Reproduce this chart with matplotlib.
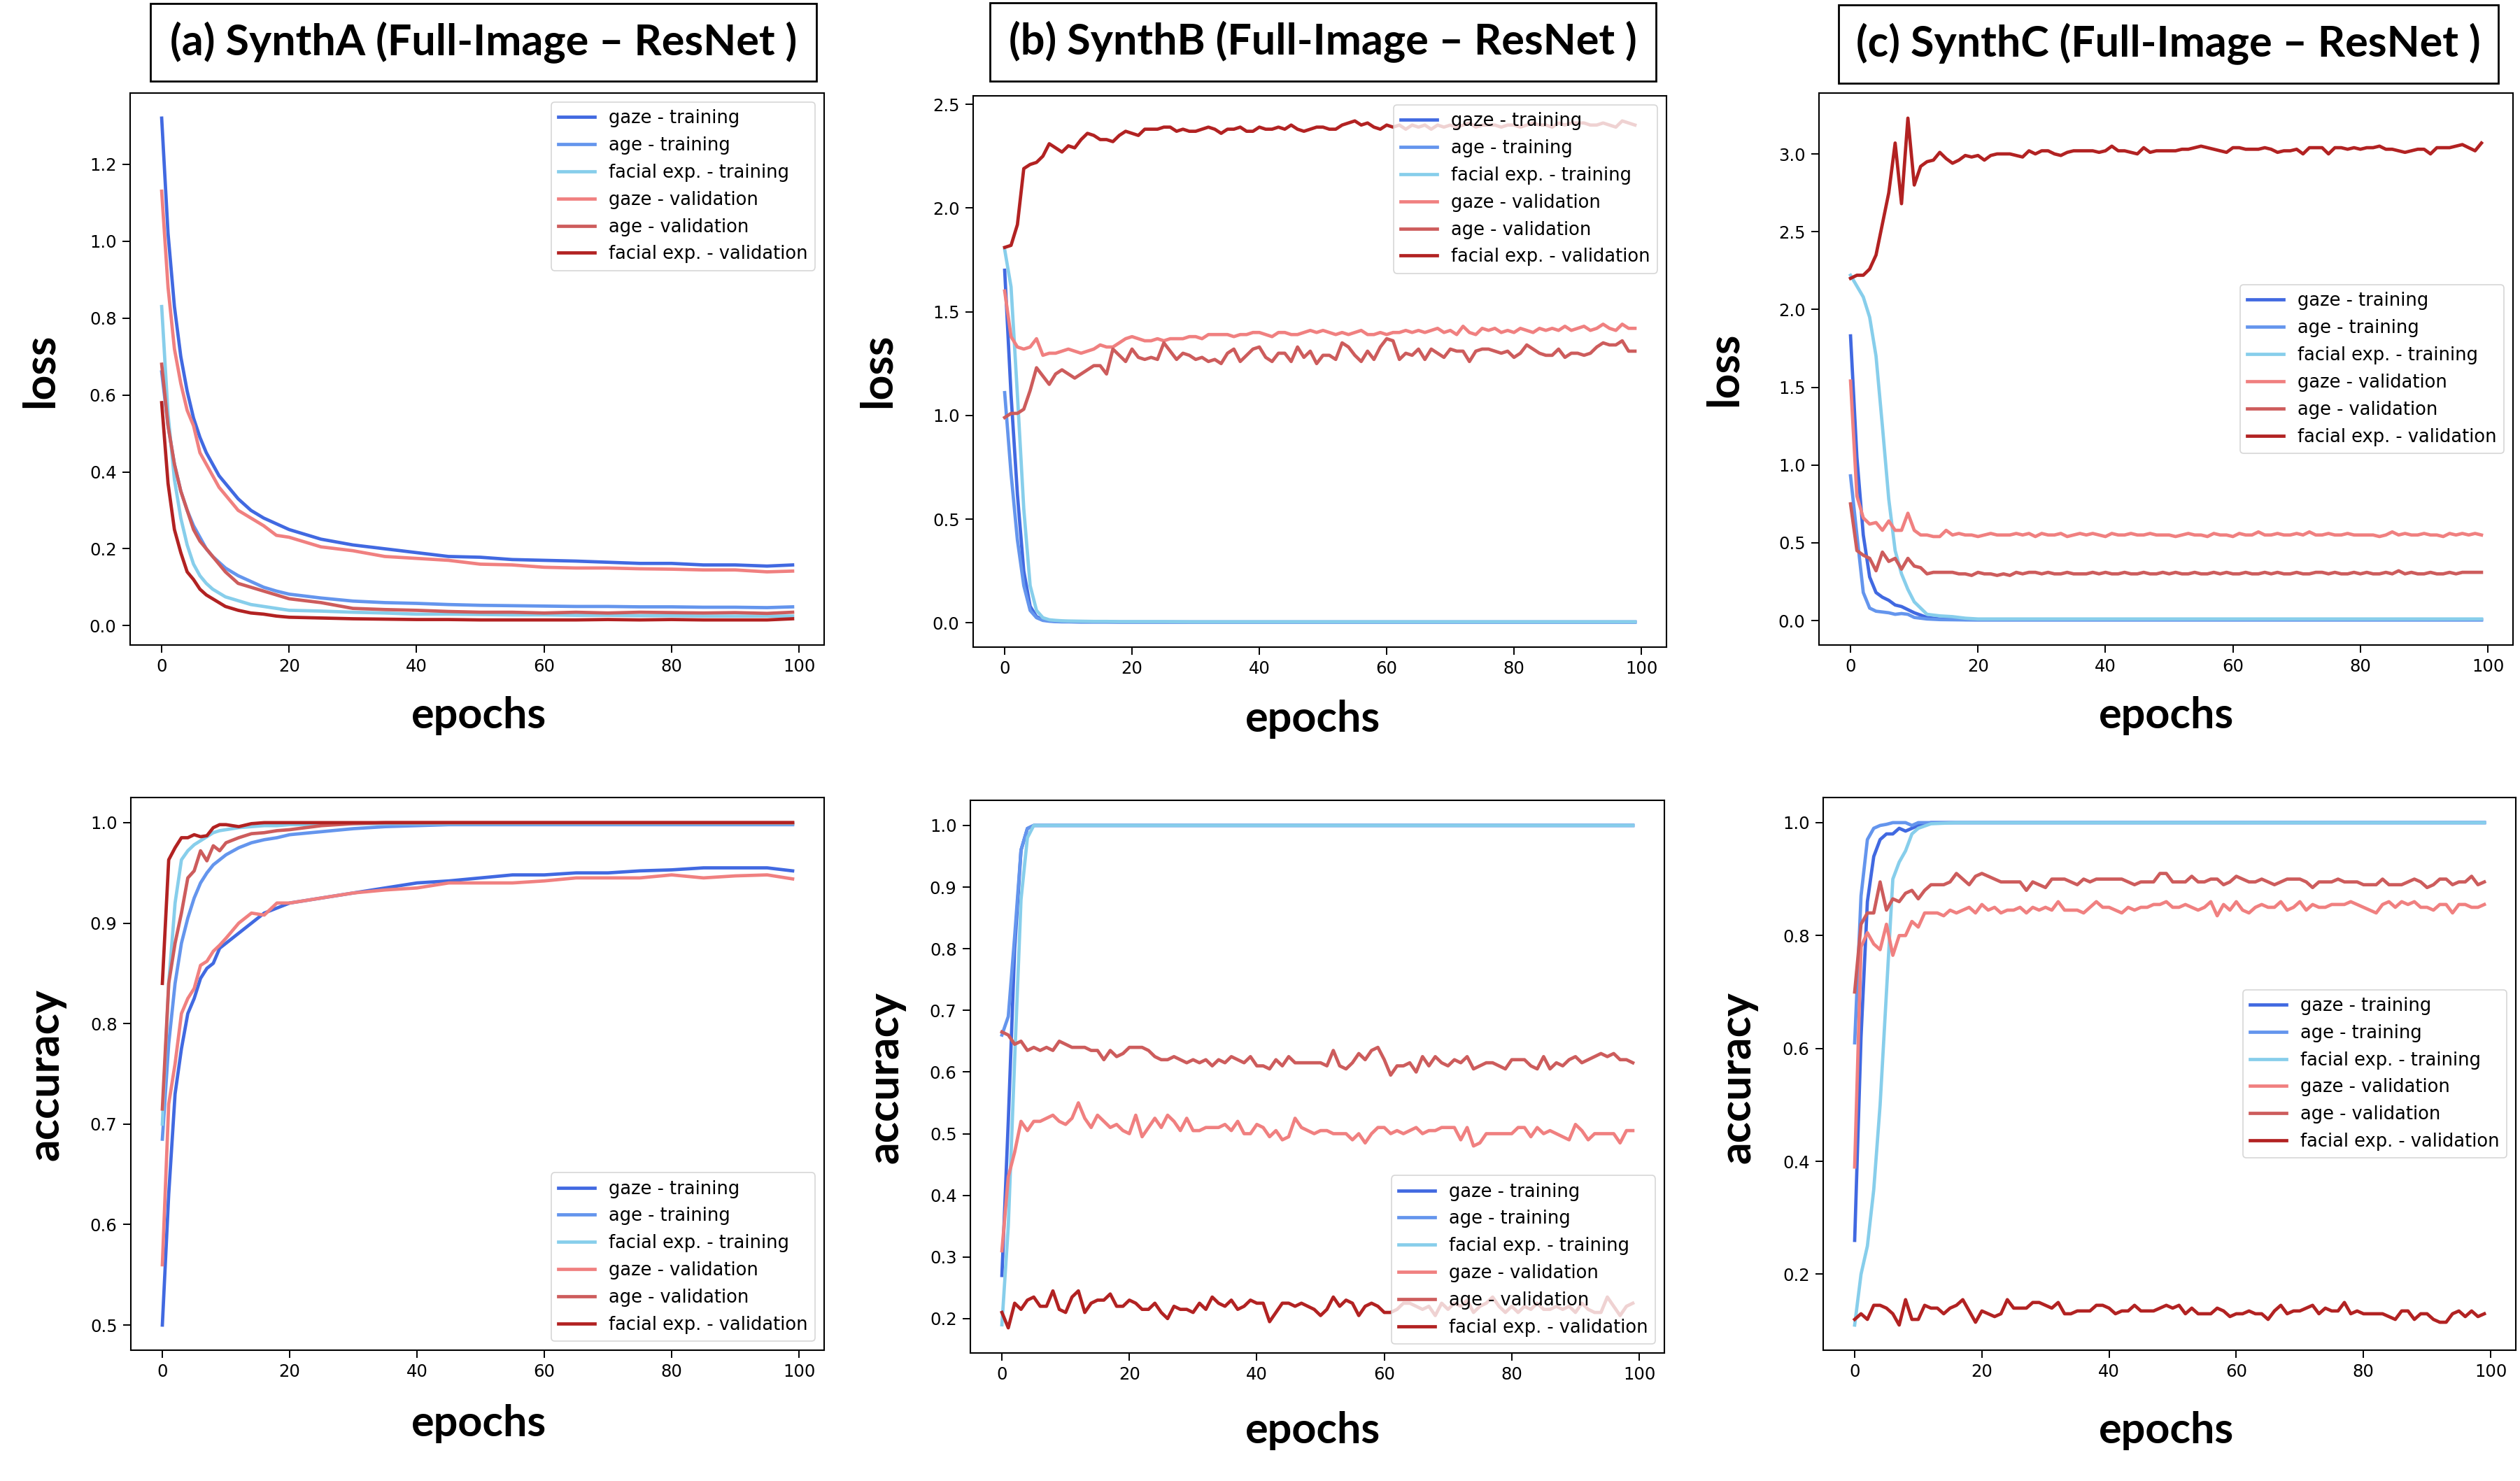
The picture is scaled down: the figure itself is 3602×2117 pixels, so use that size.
import matplotlib
matplotlib.use("Agg")
import matplotlib.pyplot as plt
from matplotlib.patches import Rectangle

W, H = 3602, 2117

ep_smooth = [0, 1, 2, 3, 4, 5, 6, 7, 8, 9, 10, 12, 14, 16, 18, 20, 25, 30, 35, 40,
             45, 50, 55, 60, 65, 70, 75, 80, 85, 90, 95, 99]
ep_all = list(range(100))

labels = ["gaze - training", "age - training", "facial exp. - training",
          "gaze - validation", "age - validation", "facial exp. - validation"]
colors = ["royalblue", "cornflowerblue", "skyblue", "lightcoral", "indianred", "firebrick"]

titles = ["(a) SynthA (Full-Image \u2013 ResNet )",
          "(b) SynthB (Full-Image \u2013 ResNet )",
          "(c) SynthC (Full-Image \u2013 ResNet )"]

# ---- (a) SynthA loss (ep_smooth)
a_loss_gaze_tr = [1.32, 1.02, 0.83, 0.70, 0.61, 0.54, 0.49, 0.45, 0.42, 0.39, 0.37, 0.33, 0.30, 0.28, 0.265, 0.25,
                  0.225, 0.21, 0.20, 0.19, 0.18, 0.178, 0.172, 0.17, 0.168, 0.165, 0.162, 0.162, 0.158, 0.158, 0.155, 0.158]
a_loss_age_tr = [0.66, 0.52, 0.42, 0.35, 0.30, 0.26, 0.23, 0.20, 0.18, 0.165, 0.15, 0.13, 0.115, 0.10, 0.09, 0.082,
                 0.072, 0.064, 0.06, 0.058, 0.055, 0.053, 0.052, 0.051, 0.05, 0.05, 0.049, 0.049, 0.048, 0.048, 0.047, 0.049]
a_loss_face_tr = [0.83, 0.55, 0.38, 0.28, 0.21, 0.16, 0.13, 0.11, 0.095, 0.085, 0.075, 0.065, 0.055, 0.05, 0.045, 0.04,
                  0.038, 0.035, 0.033, 0.03, 0.03, 0.029, 0.028, 0.028, 0.027, 0.027, 0.026, 0.026, 0.025, 0.025, 0.025, 0.025]
a_loss_gaze_val = [1.13, 0.88, 0.72, 0.63, 0.56, 0.52, 0.45, 0.42, 0.39, 0.36, 0.34, 0.30, 0.28, 0.26, 0.235, 0.23,
                   0.205, 0.195, 0.18, 0.175, 0.17, 0.16, 0.158, 0.152, 0.15, 0.15, 0.148, 0.147, 0.145, 0.145, 0.14, 0.142]
a_loss_age_val = [0.68, 0.52, 0.42, 0.35, 0.30, 0.25, 0.22, 0.20, 0.18, 0.16, 0.14, 0.11, 0.10, 0.09, 0.08, 0.07,
                  0.06, 0.045, 0.042, 0.04, 0.037, 0.035, 0.035, 0.033, 0.035, 0.033, 0.035, 0.034, 0.033, 0.034, 0.032, 0.035]
a_loss_face_val = [0.58, 0.37, 0.25, 0.19, 0.14, 0.12, 0.095, 0.08, 0.07, 0.06, 0.05, 0.04, 0.033, 0.03, 0.025, 0.022,
                   0.02, 0.018, 0.017, 0.016, 0.016, 0.015, 0.015, 0.015, 0.015, 0.016, 0.015, 0.016, 0.015, 0.015, 0.015, 0.018]

# ---- (a) SynthA accuracy (ep_smooth)
a_acc_gaze_tr = [0.50, 0.63, 0.73, 0.775, 0.81, 0.825, 0.845, 0.855, 0.86, 0.875, 0.88, 0.89, 0.90, 0.91, 0.915, 0.92,
                 0.925, 0.93, 0.935, 0.94, 0.942, 0.945, 0.948, 0.948, 0.95, 0.95, 0.952, 0.953, 0.955, 0.955, 0.955, 0.952]
a_acc_age_tr = [0.685, 0.78, 0.84, 0.88, 0.905, 0.925, 0.94, 0.95, 0.958, 0.963, 0.968, 0.975, 0.98, 0.983, 0.985, 0.988,
                0.991, 0.994, 0.996, 0.997, 0.998, 0.998, 0.998, 0.998, 0.998, 0.998, 0.998, 0.998, 0.998, 0.998, 0.998, 0.998]
a_acc_face_tr = [0.70, 0.84, 0.92, 0.963, 0.972, 0.978, 0.982, 0.986, 0.99, 0.992, 0.993, 0.995, 0.996, 0.997, 0.997, 0.998,
                 0.998, 0.999, 0.999, 0.999, 0.999, 0.999, 0.999, 0.999, 0.999, 0.999, 0.999, 0.999, 0.999, 0.999, 0.999, 0.999]
a_acc_gaze_val = [0.56, 0.72, 0.76, 0.81, 0.825, 0.835, 0.858, 0.862, 0.872, 0.878, 0.885, 0.90, 0.91, 0.908, 0.92, 0.92,
                  0.925, 0.93, 0.933, 0.935, 0.94, 0.94, 0.94, 0.942, 0.945, 0.945, 0.945, 0.948, 0.945, 0.947, 0.948, 0.944]
a_acc_age_val = [0.715, 0.84, 0.88, 0.91, 0.945, 0.952, 0.972, 0.962, 0.977, 0.972, 0.98, 0.985, 0.989, 0.99, 0.992, 0.993,
                 0.997, 0.999, 1.0, 1.0, 1.0, 1.0, 1.0, 1.0, 1.0, 1.0, 1.0, 1.0, 1.0, 1.0, 1.0, 1.0]
a_acc_face_val = [0.84, 0.963, 0.975, 0.985, 0.985, 0.988, 0.986, 0.987, 0.995, 0.998, 0.998, 0.996, 0.999, 1.0, 1.0, 1.0,
                  1.0, 1.0, 1.0, 1.0, 1.0, 1.0, 1.0, 1.0, 1.0, 1.0, 1.0, 1.0, 1.0, 1.0, 1.0, 1.0]

# ---- (b) SynthB loss
b_loss_gaze_tr = [1.70, 1.10, 0.62, 0.25, 0.08, 0.03, 0.015, 0.01, 0.008, 0.007, 0.006, 0.005, 0.005, 0.005, 0.004, 0.004,
                  0.004, 0.004, 0.004, 0.004, 0.004, 0.004, 0.004, 0.004, 0.004, 0.004, 0.004, 0.004, 0.004, 0.004, 0.004, 0.004]
b_loss_age_tr = [1.11, 0.72, 0.40, 0.18, 0.06, 0.025, 0.012, 0.008, 0.006, 0.005, 0.005, 0.004, 0.004, 0.004, 0.004, 0.004,
                 0.004, 0.004, 0.004, 0.004, 0.004, 0.004, 0.004, 0.004, 0.004, 0.004, 0.004, 0.004, 0.004, 0.004, 0.004, 0.004]
b_loss_face_tr = [1.80, 1.62, 1.10, 0.55, 0.18, 0.06, 0.025, 0.015, 0.012, 0.01, 0.009, 0.008, 0.007, 0.007, 0.006, 0.006,
                  0.006, 0.005, 0.005, 0.005, 0.005, 0.005, 0.005, 0.005, 0.005, 0.005, 0.005, 0.005, 0.005, 0.005, 0.005, 0.005]
b_loss_gaze_val = [1.60, 1.38, 1.33, 1.32, 1.33, 1.37, 1.29, 1.30, 1.30, 1.31,
                   1.32, 1.31, 1.30, 1.31, 1.32, 1.34, 1.33, 1.33, 1.35, 1.37,
                   1.38, 1.37, 1.36, 1.36, 1.37, 1.36, 1.37, 1.37, 1.37, 1.38,
                   1.38, 1.37, 1.39, 1.39, 1.39, 1.39, 1.38, 1.39, 1.39, 1.40,
                   1.40, 1.39, 1.38, 1.40, 1.40, 1.39, 1.39, 1.40, 1.41, 1.40,
                   1.41, 1.40, 1.39, 1.40, 1.39, 1.40, 1.41, 1.39, 1.39, 1.40,
                   1.39, 1.40, 1.40, 1.41, 1.40, 1.41, 1.40, 1.41, 1.42, 1.40,
                   1.41, 1.39, 1.43, 1.40, 1.39, 1.42, 1.41, 1.42, 1.40, 1.41,
                   1.40, 1.42, 1.41, 1.40, 1.42, 1.41, 1.42, 1.41, 1.43, 1.41,
                   1.42, 1.43, 1.41, 1.42, 1.44, 1.42, 1.41, 1.44, 1.42, 1.42]
b_loss_age_val = [0.99, 1.01, 1.01, 1.03, 1.12, 1.23, 1.19, 1.15, 1.20, 1.22,
                  1.20, 1.18, 1.20, 1.22, 1.24, 1.24, 1.20, 1.32, 1.29, 1.26,
                  1.32, 1.28, 1.27, 1.28, 1.27, 1.35, 1.31, 1.27, 1.30, 1.29,
                  1.27, 1.28, 1.26, 1.27, 1.25, 1.30, 1.32, 1.26, 1.29, 1.32,
                  1.33, 1.28, 1.26, 1.30, 1.30, 1.26, 1.33, 1.28, 1.31, 1.25,
                  1.29, 1.29, 1.27, 1.35, 1.33, 1.29, 1.26, 1.31, 1.27, 1.33,
                  1.37, 1.36, 1.27, 1.30, 1.29, 1.32, 1.27, 1.32, 1.30, 1.28,
                  1.32, 1.31, 1.31, 1.26, 1.31, 1.32, 1.32, 1.31, 1.30, 1.31,
                  1.28, 1.30, 1.34, 1.32, 1.30, 1.29, 1.29, 1.32, 1.28, 1.30,
                  1.30, 1.29, 1.30, 1.33, 1.35, 1.34, 1.34, 1.36, 1.31, 1.31]
b_loss_face_val = [1.81, 1.82, 1.92, 2.19, 2.21, 2.22, 2.25, 2.31, 2.29, 2.27,
                   2.30, 2.29, 2.33, 2.36, 2.35, 2.33, 2.33, 2.32, 2.35, 2.37,
                   2.36, 2.35, 2.38, 2.38, 2.38, 2.39, 2.39, 2.37, 2.38, 2.37,
                   2.37, 2.38, 2.39, 2.38, 2.36, 2.38, 2.38, 2.39, 2.37, 2.37,
                   2.39, 2.38, 2.38, 2.39, 2.38, 2.40, 2.38, 2.37, 2.38, 2.39,
                   2.39, 2.38, 2.38, 2.40, 2.41, 2.42, 2.40, 2.41, 2.39, 2.38,
                   2.40, 2.39, 2.40, 2.38, 2.40, 2.39, 2.40, 2.38, 2.40, 2.39,
                   2.40, 2.39, 2.40, 2.41, 2.39, 2.40, 2.40, 2.40, 2.39, 2.40,
                   2.40, 2.39, 2.40, 2.41, 2.40, 2.40, 2.39, 2.41, 2.40, 2.41,
                   2.41, 2.41, 2.40, 2.40, 2.41, 2.40, 2.39, 2.42, 2.41, 2.40]

# ---- (b) SynthB accuracy
b_acc_gaze_tr = [0.27, 0.52, 0.80, 0.96, 0.995, 1.0, 1.0, 1.0, 1.0, 1.0, 1.0, 1.0, 1.0, 1.0, 1.0, 1.0,
                 1.0, 1.0, 1.0, 1.0, 1.0, 1.0, 1.0, 1.0, 1.0, 1.0, 1.0, 1.0, 1.0, 1.0, 1.0, 1.0]
b_acc_age_tr = [0.66, 0.69, 0.82, 0.96, 0.995, 1.0, 1.0, 1.0, 1.0, 1.0, 1.0, 1.0, 1.0, 1.0, 1.0, 1.0,
                1.0, 1.0, 1.0, 1.0, 1.0, 1.0, 1.0, 1.0, 1.0, 1.0, 1.0, 1.0, 1.0, 1.0, 1.0, 1.0]
b_acc_face_tr = [0.19, 0.35, 0.62, 0.88, 0.98, 1.0, 1.0, 1.0, 1.0, 1.0, 1.0, 1.0, 1.0, 1.0, 1.0, 1.0,
                 1.0, 1.0, 1.0, 1.0, 1.0, 1.0, 1.0, 1.0, 1.0, 1.0, 1.0, 1.0, 1.0, 1.0, 1.0, 1.0]
b_acc_gaze_val = [0.31, 0.43, 0.47, 0.52, 0.505, 0.52, 0.52, 0.525, 0.53, 0.52,
                  0.515, 0.525, 0.55, 0.525, 0.51, 0.53, 0.52, 0.51, 0.515, 0.505,
                  0.50, 0.53, 0.495, 0.51, 0.525, 0.51, 0.53, 0.52, 0.505, 0.525,
                  0.505, 0.505, 0.51, 0.51, 0.51, 0.515, 0.505, 0.52, 0.50, 0.50,
                  0.515, 0.51, 0.495, 0.505, 0.49, 0.495, 0.525, 0.51, 0.505, 0.50,
                  0.505, 0.505, 0.50, 0.50, 0.50, 0.49, 0.50, 0.485, 0.50, 0.51,
                  0.51, 0.50, 0.505, 0.50, 0.505, 0.51, 0.50, 0.505, 0.505, 0.51,
                  0.51, 0.51, 0.49, 0.51, 0.48, 0.485, 0.50, 0.50, 0.50, 0.50,
                  0.50, 0.51, 0.51, 0.495, 0.51, 0.50, 0.505, 0.50, 0.495, 0.49,
                  0.515, 0.505, 0.49, 0.50, 0.50, 0.50, 0.50, 0.485, 0.505, 0.505]
b_acc_age_val = [0.665, 0.660, 0.645, 0.650, 0.635, 0.640, 0.635, 0.640, 0.635, 0.650,
                 0.645, 0.640, 0.640, 0.640, 0.635, 0.635, 0.620, 0.635, 0.625, 0.630,
                 0.640, 0.640, 0.640, 0.635, 0.625, 0.620, 0.620, 0.625, 0.620, 0.615,
                 0.620, 0.615, 0.620, 0.610, 0.620, 0.615, 0.625, 0.620, 0.615, 0.625,
                 0.610, 0.610, 0.605, 0.620, 0.610, 0.625, 0.615, 0.615, 0.615, 0.615,
                 0.615, 0.610, 0.635, 0.610, 0.605, 0.615, 0.630, 0.620, 0.635, 0.640,
                 0.620, 0.595, 0.610, 0.610, 0.615, 0.600, 0.625, 0.610, 0.625, 0.615,
                 0.610, 0.620, 0.615, 0.625, 0.605, 0.610, 0.615, 0.615, 0.610, 0.605,
                 0.620, 0.620, 0.620, 0.610, 0.605, 0.625, 0.605, 0.615, 0.610, 0.620,
                 0.625, 0.615, 0.620, 0.625, 0.630, 0.625, 0.630, 0.620, 0.620, 0.615]
b_acc_face_val = [0.21, 0.185, 0.225, 0.215, 0.23, 0.235, 0.22, 0.22, 0.245, 0.215,
                  0.21, 0.235, 0.245, 0.21, 0.225, 0.23, 0.23, 0.24, 0.22, 0.22,
                  0.23, 0.225, 0.215, 0.215, 0.225, 0.21, 0.20, 0.22, 0.215, 0.215,
                  0.21, 0.225, 0.215, 0.235, 0.225, 0.22, 0.23, 0.215, 0.22, 0.23,
                  0.225, 0.225, 0.195, 0.21, 0.225, 0.225, 0.22, 0.225, 0.22, 0.215,
                  0.205, 0.215, 0.235, 0.22, 0.23, 0.225, 0.205, 0.22, 0.225, 0.22,
                  0.21, 0.21, 0.215, 0.225, 0.225, 0.22, 0.215, 0.22, 0.205, 0.225,
                  0.215, 0.225, 0.22, 0.23, 0.21, 0.22, 0.225, 0.235, 0.22, 0.21,
                  0.22, 0.21, 0.22, 0.215, 0.225, 0.215, 0.215, 0.22, 0.215, 0.22,
                  0.21, 0.225, 0.215, 0.21, 0.21, 0.235, 0.22, 0.205, 0.22, 0.225]

# ---- (c) SynthC loss
c_loss_gaze_tr = [1.83, 1.05, 0.55, 0.28, 0.18, 0.15, 0.13, 0.10, 0.09, 0.07, 0.05, 0.02, 0.01, 0.008, 0.006, 0.005,
                  0.005, 0.005, 0.005, 0.005, 0.005, 0.005, 0.005, 0.005, 0.005, 0.005, 0.005, 0.005, 0.005, 0.005, 0.005, 0.005]
c_loss_age_tr = [0.93, 0.55, 0.18, 0.08, 0.06, 0.055, 0.05, 0.04, 0.045, 0.04, 0.02, 0.01, 0.006, 0.005, 0.004, 0.004,
                 0.004, 0.004, 0.004, 0.004, 0.004, 0.004, 0.004, 0.004, 0.004, 0.004, 0.004, 0.004, 0.004, 0.004, 0.004, 0.004]
c_loss_face_tr = [2.22, 2.15, 2.08, 1.95, 1.70, 1.25, 0.78, 0.45, 0.30, 0.20, 0.12, 0.04, 0.03, 0.025, 0.015, 0.01,
                  0.01, 0.01, 0.01, 0.01, 0.01, 0.01, 0.01, 0.01, 0.01, 0.01, 0.01, 0.01, 0.01, 0.01, 0.01, 0.01]
c_loss_gaze_val = [1.54, 0.80, 0.66, 0.62, 0.63, 0.58, 0.64, 0.58, 0.58, 0.69,
                   0.58, 0.55, 0.55, 0.54, 0.54, 0.58, 0.55, 0.56, 0.55, 0.55,
                   0.54, 0.55, 0.56, 0.55, 0.55, 0.55, 0.56, 0.55, 0.56, 0.54,
                   0.56, 0.55, 0.55, 0.56, 0.54, 0.55, 0.56, 0.55, 0.56, 0.55,
                   0.54, 0.56, 0.55, 0.55, 0.56, 0.55, 0.55, 0.56, 0.55, 0.55,
                   0.55, 0.54, 0.55, 0.56, 0.55, 0.55, 0.54, 0.56, 0.55, 0.55,
                   0.54, 0.56, 0.55, 0.55, 0.57, 0.55, 0.55, 0.56, 0.55, 0.55,
                   0.56, 0.55, 0.57, 0.55, 0.55, 0.56, 0.55, 0.55, 0.56, 0.55,
                   0.55, 0.55, 0.55, 0.54, 0.55, 0.57, 0.55, 0.56, 0.55, 0.55,
                   0.56, 0.55, 0.55, 0.54, 0.56, 0.55, 0.56, 0.55, 0.56, 0.55]
c_loss_age_val = [0.75, 0.45, 0.42, 0.40, 0.32, 0.44, 0.38, 0.40, 0.33, 0.40,
                  0.35, 0.34, 0.30, 0.31, 0.31, 0.31, 0.31, 0.30, 0.30, 0.29,
                  0.31, 0.30, 0.30, 0.29, 0.30, 0.29, 0.31, 0.30, 0.31, 0.31,
                  0.30, 0.31, 0.30, 0.30, 0.31, 0.30, 0.30, 0.30, 0.31, 0.30,
                  0.31, 0.30, 0.30, 0.31, 0.30, 0.30, 0.31, 0.30, 0.30, 0.31,
                  0.30, 0.31, 0.30, 0.30, 0.31, 0.30, 0.30, 0.31, 0.30, 0.31,
                  0.30, 0.30, 0.31, 0.30, 0.30, 0.31, 0.30, 0.31, 0.30, 0.30,
                  0.31, 0.30, 0.30, 0.31, 0.31, 0.30, 0.31, 0.30, 0.30, 0.31,
                  0.30, 0.31, 0.30, 0.30, 0.31, 0.30, 0.32, 0.30, 0.31, 0.30,
                  0.30, 0.31, 0.30, 0.30, 0.31, 0.30, 0.31, 0.31, 0.31, 0.31]
c_loss_face_val = [2.20, 2.22, 2.22, 2.26, 2.35, 2.55, 2.75, 3.07, 2.68, 3.23,
                   2.80, 2.92, 2.95, 2.96, 3.01, 2.97, 2.94, 2.96, 2.99, 2.98,
                   2.99, 2.96, 2.99, 3.00, 3.00, 3.00, 2.99, 2.98, 3.02, 3.00,
                   3.02, 3.02, 3.00, 2.99, 3.01, 3.02, 3.02, 3.02, 3.02, 3.01,
                   3.02, 3.05, 3.02, 3.02, 3.01, 3.00, 3.04, 3.01, 3.02, 3.02,
                   3.02, 3.02, 3.03, 3.03, 3.04, 3.05, 3.04, 3.03, 3.02, 3.01,
                   3.04, 3.04, 3.03, 3.03, 3.03, 3.04, 3.03, 3.01, 3.02, 3.02,
                   3.03, 3.00, 3.04, 3.04, 3.04, 3.00, 3.04, 3.04, 3.03, 3.04,
                   3.03, 3.04, 3.04, 3.05, 3.03, 3.03, 3.02, 3.01, 3.02, 3.03,
                   3.03, 3.00, 3.04, 3.04, 3.04, 3.05, 3.06, 3.04, 3.02, 3.07]

# ---- (c) SynthC accuracy
c_acc_gaze_tr = [0.26, 0.62, 0.86, 0.94, 0.97, 0.98, 0.98, 0.99, 0.985, 0.99, 0.995, 1.0, 1.0, 1.0, 1.0, 1.0,
                 1.0, 1.0, 1.0, 1.0, 1.0, 1.0, 1.0, 1.0, 1.0, 1.0, 1.0, 1.0, 1.0, 1.0, 1.0, 1.0]
c_acc_age_tr = [0.61, 0.87, 0.97, 0.99, 0.995, 0.997, 1.0, 1.0, 1.0, 0.995, 1.0, 1.0, 1.0, 1.0, 1.0, 1.0,
                1.0, 1.0, 1.0, 1.0, 1.0, 1.0, 1.0, 1.0, 1.0, 1.0, 1.0, 1.0, 1.0, 1.0, 1.0, 1.0]
c_acc_face_tr = [0.11, 0.20, 0.25, 0.35, 0.50, 0.70, 0.90, 0.93, 0.95, 0.98, 0.99, 0.998, 0.999, 1.0, 1.0, 1.0,
                 1.0, 1.0, 1.0, 1.0, 1.0, 1.0, 1.0, 1.0, 1.0, 1.0, 1.0, 1.0, 1.0, 1.0, 1.0, 1.0]
c_acc_gaze_val = [0.39, 0.78, 0.805, 0.785, 0.775, 0.82, 0.765, 0.80, 0.80, 0.825,
                  0.815, 0.84, 0.84, 0.84, 0.835, 0.845, 0.84, 0.845, 0.85, 0.84,
                  0.855, 0.845, 0.85, 0.84, 0.845, 0.845, 0.85, 0.84, 0.85, 0.845,
                  0.85, 0.845, 0.86, 0.845, 0.845, 0.845, 0.84, 0.85, 0.86, 0.85,
                  0.85, 0.845, 0.84, 0.85, 0.845, 0.85, 0.85, 0.855, 0.855, 0.86,
                  0.85, 0.85, 0.855, 0.85, 0.845, 0.85, 0.86, 0.835, 0.855, 0.845,
                  0.86, 0.845, 0.84, 0.85, 0.855, 0.85, 0.85, 0.86, 0.845, 0.85,
                  0.86, 0.845, 0.855, 0.85, 0.85, 0.855, 0.855, 0.855, 0.86, 0.855,
                  0.85, 0.845, 0.84, 0.855, 0.86, 0.85, 0.86, 0.855, 0.86, 0.85,
                  0.85, 0.845, 0.855, 0.855, 0.84, 0.855, 0.855, 0.85, 0.85, 0.855]
c_acc_age_val = [0.70, 0.82, 0.84, 0.84, 0.895, 0.845, 0.865, 0.86, 0.875, 0.88,
                 0.865, 0.88, 0.89, 0.89, 0.89, 0.895, 0.91, 0.90, 0.89, 0.905,
                 0.91, 0.905, 0.90, 0.895, 0.895, 0.895, 0.895, 0.88, 0.895, 0.89,
                 0.885, 0.90, 0.90, 0.90, 0.895, 0.89, 0.90, 0.895, 0.90, 0.90,
                 0.90, 0.90, 0.90, 0.895, 0.89, 0.895, 0.895, 0.895, 0.91, 0.91,
                 0.895, 0.895, 0.895, 0.905, 0.895, 0.895, 0.90, 0.90, 0.89, 0.895,
                 0.905, 0.90, 0.895, 0.895, 0.90, 0.895, 0.89, 0.895, 0.90, 0.90,
                 0.90, 0.895, 0.885, 0.895, 0.895, 0.895, 0.90, 0.895, 0.895, 0.895,
                 0.89, 0.89, 0.89, 0.90, 0.89, 0.89, 0.89, 0.895, 0.90, 0.895,
                 0.885, 0.89, 0.90, 0.90, 0.89, 0.895, 0.895, 0.905, 0.89, 0.895]
c_acc_face_val = [0.12, 0.13, 0.12, 0.145, 0.145, 0.14, 0.13, 0.11, 0.155, 0.12,
                  0.12, 0.145, 0.14, 0.14, 0.13, 0.14, 0.145, 0.155, 0.135, 0.115,
                  0.135, 0.13, 0.125, 0.13, 0.155, 0.14, 0.14, 0.14, 0.15, 0.15,
                  0.145, 0.14, 0.15, 0.13, 0.13, 0.135, 0.135, 0.135, 0.145, 0.145,
                  0.14, 0.13, 0.135, 0.135, 0.145, 0.135, 0.135, 0.135, 0.14, 0.145,
                  0.14, 0.145, 0.13, 0.14, 0.13, 0.13, 0.13, 0.14, 0.135, 0.125,
                  0.13, 0.13, 0.135, 0.13, 0.13, 0.12, 0.135, 0.145, 0.13, 0.135,
                  0.135, 0.14, 0.145, 0.13, 0.14, 0.135, 0.135, 0.15, 0.13, 0.135,
                  0.13, 0.13, 0.13, 0.13, 0.125, 0.12, 0.135, 0.135, 0.12, 0.13,
                  0.13, 0.12, 0.115, 0.115, 0.13, 0.135, 0.125, 0.135, 0.125, 0.13]

panels = [
    # (axes box in px: left, right, top, bottom), ylabel, legend loc, series
    ((186, 1178, 133, 922), "loss", "upper right",
     [(ep_smooth, a_loss_gaze_tr), (ep_smooth, a_loss_age_tr), (ep_smooth, a_loss_face_tr),
      (ep_smooth, a_loss_gaze_val), (ep_smooth, a_loss_age_val), (ep_smooth, a_loss_face_val)]),
    ((1391, 2382, 137, 925), "loss", "upper right",
     [(ep_smooth, b_loss_gaze_tr), (ep_smooth, b_loss_age_tr), (ep_smooth, b_loss_face_tr),
      (ep_all, b_loss_gaze_val), (ep_all, b_loss_age_val), (ep_all, b_loss_face_val)]),
    ((2600, 3592, 133, 922), "loss", "center right",
     [(ep_smooth, c_loss_gaze_tr), (ep_smooth, c_loss_age_tr), (ep_smooth, c_loss_face_tr),
      (ep_all, c_loss_gaze_val), (ep_all, c_loss_age_val), (ep_all, c_loss_face_val)]),
    ((187, 1178, 1140, 1930), "accuracy", "lower right",
     [(ep_smooth, a_acc_gaze_tr), (ep_smooth, a_acc_age_tr), (ep_smooth, a_acc_face_tr),
      (ep_smooth, a_acc_gaze_val), (ep_smooth, a_acc_age_val), (ep_smooth, a_acc_face_val)]),
    ((1387, 2379, 1144, 1934), "accuracy", "lower right",
     [(ep_smooth, b_acc_gaze_tr), (ep_smooth, b_acc_age_tr), (ep_smooth, b_acc_face_tr),
      (ep_all, b_acc_gaze_val), (ep_all, b_acc_age_val), (ep_all, b_acc_face_val)]),
    ((2606, 3596, 1140, 1930), "accuracy", "center right",
     [(ep_smooth, c_acc_gaze_tr), (ep_smooth, c_acc_age_tr), (ep_smooth, c_acc_face_tr),
      (ep_all, c_acc_gaze_val), (ep_all, c_acc_age_val), (ep_all, c_acc_face_val)]),
]

# label centres (px)
ylabel_pos = [(58, 530), (1255, 530), (2465, 528), (65, 1536), (1265, 1540), (2483, 1540)]
xlabel_pos = [(685, 1023), (1877, 1028), (3097, 1023), (685, 2035), (1877, 2045), (3097, 2045)]
title_boxes = [(215, 1167, 5, 116), (1415, 2367, 4, 116), (2628, 3571, 7, 119)]

BOLD = dict(family="Lato", weight="bold")

fig = plt.figure(figsize=(W / 100, H / 100), dpi=100)


def px_rect(l, r, t, b):
    return [l / W, 1 - b / H, (r - l) / W, (b - t) / H]


for i, (box, ylab, loc, series) in enumerate(panels):
    ax = fig.add_axes(px_rect(*box))
    for (x, y), lab, col in zip(series, labels, colors):
        ax.plot(x, y, color=col, lw=3.4, label=lab)
    ax.set_xticks([0, 20, 40, 60, 80, 100])
    ax.tick_params(labelsize=17.5, length=8, width=1.4, pad=6)
    for sp in ax.spines.values():
        sp.set_linewidth(1.5)
    leg = ax.legend(loc=loc, fontsize=18.5)
    leg.get_frame().set_linewidth(1.2)

    fig.text(ylabel_pos[i][0] / W, 1 - ylabel_pos[i][1] / H, ylab, rotation=90,
             ha="center", va="center", fontsize=45, **BOLD)
    fig.text(xlabel_pos[i][0] / W, 1 - xlabel_pos[i][1] / H, "epochs",
             ha="center", va="center", fontsize=44, **BOLD)

for (l, r, t, b), title in zip(title_boxes, titles):
    fig.patches.append(Rectangle((l / W, 1 - b / H), (r - l) / W, (b - t) / H,
                                 transform=fig.transFigure, fill=False,
                                 edgecolor="black", lw=2.0))
    fig.text((l + r) / 2 / W, 1 - (t + b) / 2 / H, title,
             ha="center", va="center", fontsize=44, **BOLD)

fig.savefig("out.png", dpi=100)
